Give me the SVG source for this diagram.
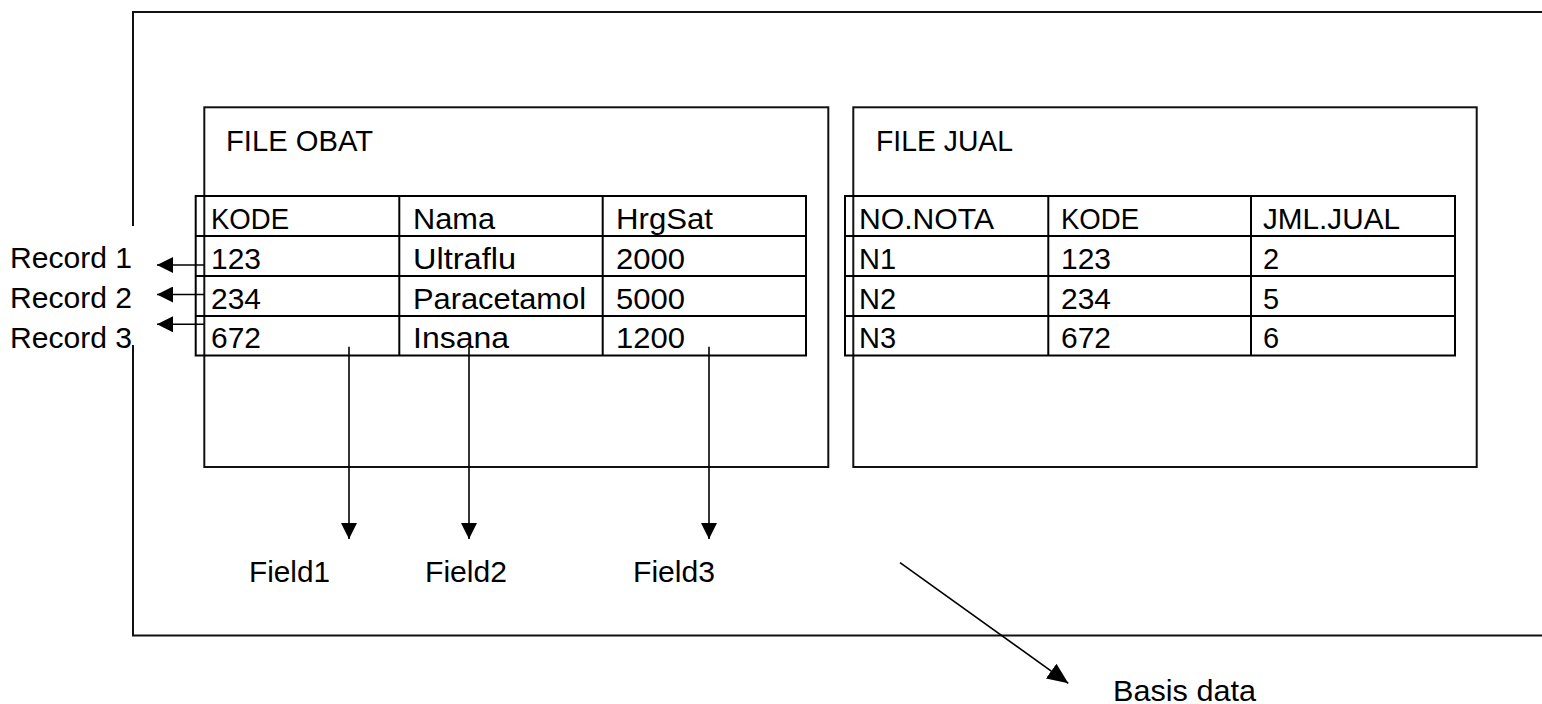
<svg xmlns="http://www.w3.org/2000/svg" width="1542" height="704" viewBox="0 0 1542 704">
<style>
  .t { font-family: "Liberation Sans", Arial, sans-serif; font-size: 29px; fill: #000; }
  .box { fill: none; stroke: #111; stroke-width: 2; }
  .tbl { fill: none; stroke: #000; stroke-width: 2; }
  .conn { fill: none; stroke: #000; stroke-width: 1.6; }
</style>
<defs>
  <marker id="ah" markerUnits="userSpaceOnUse" markerWidth="17" markerHeight="16" refX="16" refY="8" orient="auto">
    <path d="M0,0 L16,8 L0,16 z" fill="#000"/>
  </marker>
  <marker id="ahb" markerUnits="userSpaceOnUse" markerWidth="22" markerHeight="18" refX="21" refY="9" orient="auto">
    <path d="M0,0 L21,9 L0,18 z" fill="#000"/>
  </marker>
</defs>
<rect width="1542" height="704" fill="#fff"/>

<g id="basis-data">
  <path class="box" d="M1542,12 H133 V226 M133,345 V635.5 H1542"/>
</g>

<g id="file-obat">
  <rect class="box" x="204.3" y="107.3" width="624" height="359.7"/>
  <text class="t" x="226" y="151" textLength="147" lengthAdjust="spacingAndGlyphs">FILE OBAT</text>
  <g id="tabel-obat">
    <rect class="tbl" x="195.7" y="196" width="610.3" height="159.5"/>
    <path class="tbl" d="M195.7,236 H806 M195.7,276 H806 M195.7,316 H806 M399.3,196 V355.5 M602.7,196 V355.5"/>
    <text class="t" x="211" y="228.5" textLength="78" lengthAdjust="spacingAndGlyphs">KODE</text>
    <text class="t" x="413" y="228.5" textLength="82" lengthAdjust="spacingAndGlyphs">Nama</text>
    <text class="t" x="616" y="228.5" textLength="97" lengthAdjust="spacingAndGlyphs">HrgSat</text>
    <text class="t" x="211" y="268.5" textLength="50" lengthAdjust="spacingAndGlyphs">123</text>
    <text class="t" x="413" y="268.5" textLength="103" lengthAdjust="spacingAndGlyphs">Ultraflu</text>
    <text class="t" x="616" y="268.5" textLength="69" lengthAdjust="spacingAndGlyphs">2000</text>
    <text class="t" x="211" y="308.5" textLength="50" lengthAdjust="spacingAndGlyphs">234</text>
    <text class="t" x="413" y="308.5" textLength="173" lengthAdjust="spacingAndGlyphs">Paracetamol</text>
    <text class="t" x="616" y="308.5" textLength="69" lengthAdjust="spacingAndGlyphs">5000</text>
    <text class="t" x="211" y="348" textLength="50" lengthAdjust="spacingAndGlyphs">672</text>
    <text class="t" x="413" y="348" textLength="96" lengthAdjust="spacingAndGlyphs">Insana</text>
    <text class="t" x="616" y="348" textLength="69" lengthAdjust="spacingAndGlyphs">1200</text>
  </g>
</g>

<g id="file-jual">
  <rect class="box" x="853.3" y="107.3" width="623.4" height="359.7"/>
  <text class="t" x="876" y="151" textLength="137" lengthAdjust="spacingAndGlyphs">FILE JUAL</text>
  <g id="tabel-jual">
    <rect class="tbl" x="845" y="196" width="610" height="159.5"/>
    <path class="tbl" d="M845,236 H1455 M845,276 H1455 M845,316 H1455 M1048.3,196 V355.5 M1251,196 V355.5"/>
    <text class="t" x="859" y="228.5" textLength="135" lengthAdjust="spacingAndGlyphs">NO.NOTA</text>
    <text class="t" x="1061" y="228.5" textLength="78" lengthAdjust="spacingAndGlyphs">KODE</text>
    <text class="t" x="1263" y="228.5" textLength="137" lengthAdjust="spacingAndGlyphs">JML.JUAL</text>
    <text class="t" x="859" y="268.5">N1</text>
    <text class="t" x="1061" y="268.5" textLength="50" lengthAdjust="spacingAndGlyphs">123</text>
    <text class="t" x="1263" y="268.5">2</text>
    <text class="t" x="859" y="308.5">N2</text>
    <text class="t" x="1061" y="308.5" textLength="50" lengthAdjust="spacingAndGlyphs">234</text>
    <text class="t" x="1263" y="308.5">5</text>
    <text class="t" x="859" y="348">N3</text>
    <text class="t" x="1061" y="348" textLength="50" lengthAdjust="spacingAndGlyphs">672</text>
    <text class="t" x="1263" y="348">6</text>
  </g>
</g>

<g id="record-labels">
  <text class="t" x="10" y="268.3" textLength="122" lengthAdjust="spacingAndGlyphs">Record 1</text>
  <text class="t" x="10" y="308.3" textLength="122" lengthAdjust="spacingAndGlyphs">Record 2</text>
  <text class="t" x="10" y="348.3" textLength="122" lengthAdjust="spacingAndGlyphs">Record 3</text>
</g>

<g id="field-labels">
  <text class="t" x="249" y="581.7" textLength="81" lengthAdjust="spacingAndGlyphs">Field1</text>
  <text class="t" x="425" y="581.7" textLength="82" lengthAdjust="spacingAndGlyphs">Field2</text>
  <text class="t" x="633" y="581.7" textLength="82" lengthAdjust="spacingAndGlyphs">Field3</text>
</g>

<g id="basis-data-label">
  <text class="t" x="1113" y="700.7" textLength="143" lengthAdjust="spacingAndGlyphs">Basis data</text>
</g>

<g id="connectors">
  <line class="conn" x1="204" y1="265" x2="157" y2="265" marker-end="url(#ah)"/>
  <line class="conn" x1="204" y1="294.5" x2="157" y2="294.5" marker-end="url(#ah)"/>
  <line class="conn" x1="204" y1="324.3" x2="157" y2="324.3" marker-end="url(#ah)"/>
  <line class="conn" x1="349" y1="346.7" x2="349" y2="539" marker-end="url(#ah)"/>
  <line class="conn" x1="469" y1="346.7" x2="469" y2="539" marker-end="url(#ah)"/>
  <line class="conn" x1="709" y1="346.7" x2="709" y2="539" marker-end="url(#ah)"/>
  <line class="conn" x1="900" y1="562.7" x2="1068.3" y2="683.3" marker-end="url(#ahb)"/>
</g>
</svg>
